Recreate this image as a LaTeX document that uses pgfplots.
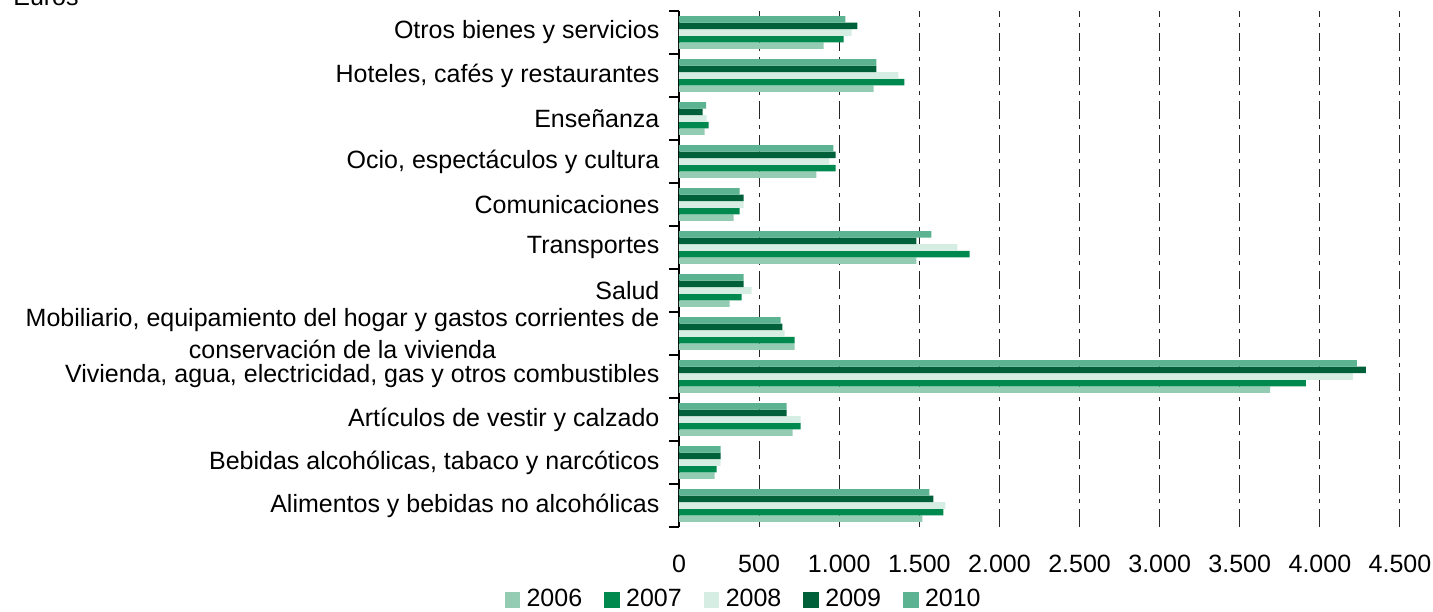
\documentclass[border=0pt]{standalone}
\usepackage{pgfplots}
\usepackage{pgfplotstable}
\pgfplotsset{compat=1.18}
\usepackage{fontspec}
\setmainfont{Liberation Sans}
\definecolor{c2006}{HTML}{93CCB3}
\definecolor{c2007}{HTML}{00894F}
\definecolor{c2008}{HTML}{D6EDE3}
\definecolor{c2009}{HTML}{00603A}
\definecolor{c2010}{HTML}{5CB391}
\pgfplotstableread{
y a2006 a2007 a2008 a2009 a2010
0 1519 1650 1663 1588 1563
1 222 235 260 260 260
2 709 759 759 671 671
3 3689 3913 4206 4287 4231
4 721 721 659 646 634
5 316 391 453 403 403
6 1482 1814 1738 1482 1575
7 341 378 403 403 378
8 858 977 939 977 964
9 160 185 173 148 170
10 1214 1407 1370 1232 1232
11 902 1027 1077 1114 1039
}\datatable
\begin{document}
\begin{tikzpicture}
\begin{axis}[
  at={(0,0)}, anchor=south west,
  scale only axis,
  width=360.5pt, height=258pt,
  xbar, bar width=0.152,
  xmin=0, xmax=4500,
  ymin=-0.5, ymax=11.5,
  axis x line*=bottom,
  axis y line*=left,
  x axis line style={draw=none},
  y axis line style={black, line width=0.6pt},
  xtick={0,500,...,4500},
  xmajorgrids,
  major x grid style={black!85, line width=0.5pt, dash pattern=on 9pt off 3pt on 2pt off 3pt},
  major x tick style={draw=none},
  xticklabel style={font=\fontsize{12.5}{15}\selectfont, yshift=-6pt},
  /pgf/number format/.cd, fixed, precision=0, 1000 sep={.}, assume math mode=true,
  /pgfplots/.cd,
  ytick={0,...,11},
  yticklabels={Alimentos y bebidas no alcohólicas,
    Bebidas alcohólicas{,} tabaco y narcóticos,
    Artículos de vestir y calzado,
    {Vivienda, agua, electricidad, gas y otros combustibles},
    {Mobiliario, equipamiento del hogar y gastos corrientes de\\conservación de la vivienda},
    Salud, Transportes, Comunicaciones,
    {Ocio, espectáculos y cultura}, Enseñanza,
    {Hoteles, cafés y restaurantes}, Otros bienes y servicios},
  yticklabel style={font=\fontsize{12.5}{16.3}\selectfont, align=center, xshift=-2pt},
  major y tick style={draw=none},
  minor ytick={-0.5,0.5,...,11.5},
  minor y tick style={black, line width=0.6pt},
  minor tick length=5pt,
  tick align=outside,
  legend columns=5,
  legend style={draw=none, at={(0.091,-0.141)}, anchor=center,
    font=\fontsize{12.5}{15}\selectfont,
    /tikz/every even column/.append style={column sep=9pt}},
  legend image code/.code={\fill[#1] (0pt,-3.9pt) rectangle (7.8pt,3.9pt); \path (9pt,0pt);},
]
\addplot[fill=c2006, draw=none, bar shift=-0.304] table[x=a2006, y=y] {\datatable};
\addplot[fill=c2007, draw=none, bar shift=-0.152] table[x=a2007, y=y] {\datatable};
\addplot[fill=c2008, draw=none, bar shift=0] table[x=a2008, y=y] {\datatable};
\addplot[fill=c2009, draw=none, bar shift=0.152] table[x=a2009, y=y] {\datatable};
\addplot[fill=c2010, draw=none, bar shift=0.304] table[x=a2010, y=y] {\datatable};
\legend{2006,2007,2008,2009,2010}
\end{axis}
\node[anchor=center, font=\fontsize{12.5}{15}\selectfont] at (-316.5pt,265pt) {Euros};
\pgfresetboundingbox
\path[use as bounding box] (-339.5pt,-42pt) rectangle (377pt,263.5pt);
\end{tikzpicture}
\end{document}
